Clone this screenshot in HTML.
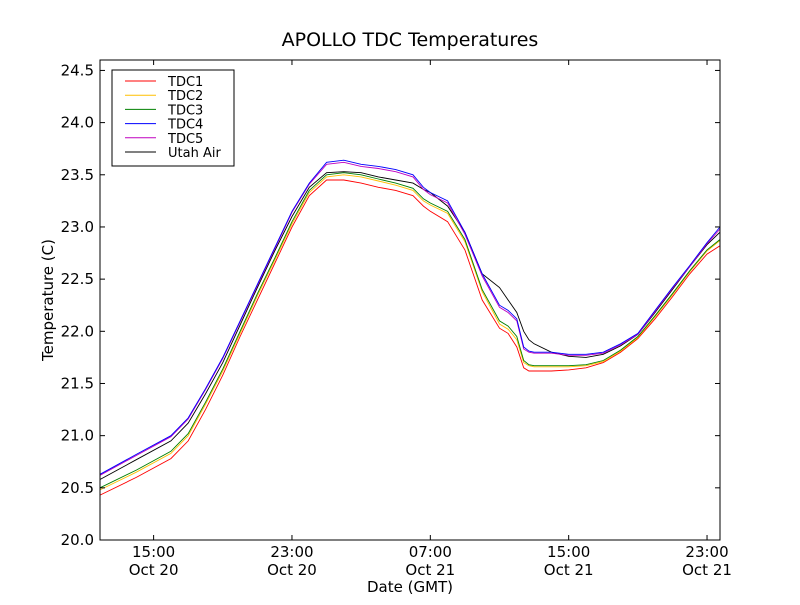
<!DOCTYPE html>
<html><head><meta charset="utf-8"><style>
body{margin:0;background:#fff;}
svg{font-family:"DejaVu Sans","Liberation Sans",sans-serif;}
</style></head><body>
<svg id="chart" width="800" height="600" xmlns="http://www.w3.org/2000/svg">
<rect width="800" height="600" fill="#fff"/>
<text x="410" y="46" font-size="19" text-anchor="middle">APOLLO TDC Temperatures</text>
<g id="plot"></g>
<rect x="100" y="60" width="620" height="480" fill="none" stroke="#000" stroke-width="1"/>
<text x="410" y="592" font-size="15" text-anchor="middle">Date (GMT)</text>
<text transform="translate(53,300) rotate(-90)" font-size="15" text-anchor="middle">Temperature (C)</text>
<g id="legend"></g>
</svg>
<script>
const hours=[11.9,14,16,17,18,19,20,21,22,23,24,25,26,27,28,29,30,30.6,31,32,33,34,35,35.5,36,36.4,36.7,37,38,39,40,41,42,43,44,45,46,47,47.75];
const tdc1=[20.43,20.6,20.78,20.95,21.25,21.58,21.95,22.3,22.65,23.0,23.3,23.45,23.45,23.42,23.38,23.35,23.3,23.2,23.15,23.05,22.78,22.3,22.03,21.98,21.85,21.65,21.62,21.62,21.62,21.63,21.65,21.7,21.8,21.93,22.12,22.33,22.55,22.74,22.82];
const tdc2=[20.48,20.65,20.83,21.0,21.3,21.62,21.98,22.34,22.68,23.03,23.33,23.48,23.5,23.48,23.44,23.4,23.35,23.25,23.21,23.13,22.86,22.38,22.07,22.02,21.92,21.7,21.67,21.66,21.66,21.66,21.67,21.71,21.81,21.94,22.14,22.35,22.57,22.77,22.87];
const tdc3=[20.5,20.67,20.85,21.02,21.32,21.64,22.0,22.36,22.7,23.05,23.35,23.5,23.52,23.5,23.46,23.42,23.37,23.27,23.23,23.15,22.88,22.4,22.1,22.05,21.95,21.72,21.68,21.67,21.67,21.67,21.68,21.72,21.82,21.95,22.15,22.36,22.58,22.78,22.88];
const tdc4=[20.63,20.82,21.0,21.17,21.45,21.75,22.1,22.45,22.8,23.15,23.42,23.62,23.64,23.6,23.58,23.55,23.5,23.38,23.33,23.25,22.95,22.55,22.25,22.2,22.12,21.85,21.81,21.8,21.8,21.78,21.78,21.8,21.88,21.98,22.2,22.42,22.63,22.85,23.0];
const tdc5=[20.62,20.81,20.99,21.16,21.44,21.74,22.09,22.44,22.79,23.14,23.41,23.6,23.62,23.58,23.56,23.53,23.48,23.36,23.31,23.23,22.93,22.53,22.23,22.18,22.1,21.83,21.8,21.79,21.79,21.77,21.77,21.79,21.87,21.97,22.19,22.41,22.62,22.84,22.98];
const utah=[20.58,20.77,20.95,21.12,21.4,21.7,22.06,22.42,22.77,23.1,23.38,23.52,23.53,23.52,23.48,23.45,23.42,23.36,23.33,23.2,22.95,22.55,22.42,22.3,22.18,22.0,21.92,21.88,21.8,21.76,21.75,21.78,21.86,21.97,22.18,22.4,22.62,22.83,22.95];
const seriesNames=["TDC1","TDC2","TDC3","TDC4","TDC5","Utah Air"];
const yTicks=[20.0,20.5,21.0,21.5,22.0,22.5,23.0,23.5,24.0,24.5];
const xTickHours=[15,23,31,39,47];
const xTickTimes=["15:00","23:00","07:00","15:00","23:00"];
const xTickDates=["Oct 20","Oct 20","Oct 21","Oct 21","Oct 21"];

const L=100,R=720,T=60,B=540,X0=11.9,X1=47.75,Y0=20,Y1=24.6;
const xs=h=>L+(h-X0)/(X1-X0)*(R-L);
const ys=v=>B-(v-Y0)/(Y1-Y0)*(B-T);
const NS="http://www.w3.org/2000/svg";
const plot=document.getElementById('plot');
const colors=["#ff0000","#ffbf00","#008000","#0000ff","#bf00bf","#000000"];
const allSeries=[tdc1,tdc2,tdc3,tdc4,tdc5,utah];
const order=[0,1,2,5,4,3];
order.forEach(i=>{
  const p=document.createElementNS(NS,'polyline');
  p.setAttribute('points',hours.map((h,k)=>xs(h).toFixed(1)+','+ys(allSeries[i][k]).toFixed(1)).join(' '));
  p.setAttribute('fill','none');p.setAttribute('stroke',colors[i]);p.setAttribute('stroke-width','0.9');
  
  
  plot.appendChild(p);
});
yTicks.forEach(v=>{
  const y=ys(v);
  const g=document.createElementNS(NS,'g');
  
  
  g.innerHTML=`<line x1="${L}" x2="${L+5}" y1="${y}" y2="${y}" stroke="#000"/><line x1="${R-5}" x2="${R}" y1="${y}" y2="${y}" stroke="#000"/><text x="${L-6}" y="${y+5}" font-size="15" text-anchor="end">${v.toFixed(1)}</text>`;
  plot.appendChild(g);
});
xTickHours.forEach((h,i)=>{
  const x=xs(h);
  const g=document.createElementNS(NS,'g');
  
  
  g.innerHTML=`<line x1="${x}" x2="${x}" y1="${B}" y2="${B-5}" stroke="#000"/><line x1="${x}" x2="${x}" y1="${T}" y2="${T+5}" stroke="#000"/><text x="${x}" y="${B+17}" font-size="15" text-anchor="middle">${xTickTimes[i]}</text><text x="${x}" y="${B+35}" font-size="15" text-anchor="middle">${xTickDates[i]}</text>`;
  plot.appendChild(g);
});
const lg=document.getElementById('legend');
let html=`<rect x="112" y="70" width="122" height="96" fill="#fff" stroke="#000"/>`;
seriesNames.forEach((n,i)=>{
  const y=81+i*14.2;
  html+=`<line x1="125" x2="156" y1="${y}" y2="${y}" stroke="${colors[i]}"/><text x="168" y="${y+5}" font-size="13">${n}</text>`;
});
lg.innerHTML=html;
</script>
</body></html>
